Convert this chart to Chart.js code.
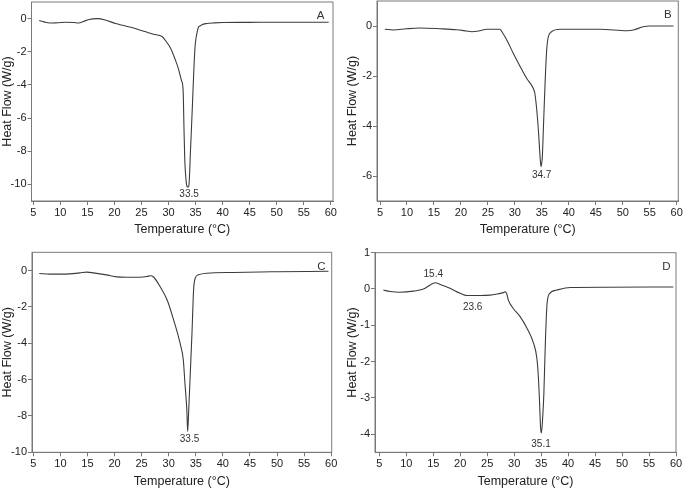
<!DOCTYPE html>
<html>
<head>
<meta charset="utf-8">
<script src="https://cdn.jsdelivr.net/npm/chart.js@4.4.1/dist/chart.umd.min.js"></script>
<style>
  body { margin: 0; background: #fff; }
  .panel { position: absolute; }
</style>
</head>
<body>
<div class="panel" style="left:0;top:0"><canvas id="chartA" width="340" height="245"></canvas></div>
<div class="panel" style="left:340px;top:0"><canvas id="chartB" width="345" height="245"></canvas></div>
<div class="panel" style="left:0;top:245px"><canvas id="chartC" width="340" height="244"></canvas></div>
<div class="panel" style="left:340px;top:245px"><canvas id="chartD" width="345" height="244"></canvas></div>
<script>
// temperatures (°C) and heat flow (W/g)
const tempA = [6.1, 7, 8, 9.5, 11, 12.5, 13.4, 14.3, 15.3, 16.8, 18.3, 20.2, 21.7, 23.2, 25.6, 27.2, 28.8, 29.6, 30.4, 31.2, 31.8, 32.4, 32.7, 32.85, 33.0, 33.15, 33.3, 33.45, 33.6, 33.75, 33.9, 34.05, 34.2, 34.45, 34.7, 34.9, 35.1, 35.3, 35.5, 35.8, 36.1, 37, 38.5, 40, 45, 50, 55, 59.6];
const flowA = [-0.12, -0.2, -0.27, -0.25, -0.22, -0.24, -0.27, -0.17, -0.05, 0, -0.08, -0.3, -0.42, -0.54, -0.78, -0.94, -1.08, -1.4, -1.8, -2.44, -3.0, -3.74, -4.34, -6.54, -8.5, -9.4, -9.94, -10.15, -10.15, -10.1, -9.3, -8.0, -6.9, -4.94, -2.94, -1.7, -1.14, -0.8, -0.54, -0.45, -0.38, -0.3, -0.26, -0.24, -0.23, -0.22, -0.22, -0.22];

const tempB = [5.9, 7.5, 9.9, 12.4, 16.1, 19.2, 21, 22, 23.5, 24.8, 27.25, 27.6, 28.5, 29.7, 31.0, 32.2, 33.4, 33.7, 34.06, 34.4, 34.67, 34.85, 35.0, 35.1, 35.3, 35.6, 35.9, 36.2, 36.8, 38.4, 45.8, 50.8, 52, 53.8, 55, 59.4];
const flowB = [-0.13, -0.16, -0.11, -0.08, -0.11, -0.15, -0.2, -0.23, -0.19, -0.13, -0.13, -0.23, -0.56, -1.09, -1.63, -2.1, -2.49, -2.69, -3.36, -4.29, -5.23, -5.63, -5.45, -5.2, -4.03, -2.29, -0.96, -0.43, -0.23, -0.13, -0.13, -0.19, -0.16, -0.03, 0, 0];

const tempC = [6.1, 8, 11, 13.6, 14.9, 16.1, 18.5, 20.4, 22.2, 24.7, 26.0, 26.6, 27.2, 28.4, 29.7, 30.9, 32.1, 32.7, 33.0, 33.35, 33.5, 33.7, 33.96, 34.3, 34.6, 34.9, 35.5, 37.05, 42, 46.9, 50, 59.5];
const flowC = [-0.17, -0.2, -0.2, -0.13, -0.09, -0.13, -0.24, -0.35, -0.37, -0.37, -0.33, -0.29, -0.36, -0.88, -1.61, -2.71, -4.0, -4.92, -6.2, -7.67, -8.86, -7.67, -5.84, -3.45, -1.06, -0.42, -0.24, -0.15, -0.11, -0.08, -0.07, -0.04];

const tempD = [5.74, 7.0, 8.8, 11.3, 13.2, 13.9, 15.0, 15.4, 16.2, 18.1, 20.0, 21.2, 23.7, 25.5, 26.8, 28.0, 28.3, 28.6, 28.9, 29.8, 31.1, 32.3, 33.6, 34.2, 34.5, 34.7, 34.9, 35.05, 35.3, 35.5, 35.8, 36.1, 36.6, 37.9, 40.4, 47.2, 59.5];
const flowD = [-0.03, -0.07, -0.09, -0.06, 0.0, 0.06, 0.16, 0.17, 0.13, 0.02, -0.12, -0.18, -0.18, -0.17, -0.14, -0.1, -0.08, -0.12, -0.3, -0.53, -0.76, -1.06, -1.5, -1.9, -2.46, -3.1, -3.83, -3.97, -3.5, -2.9, -1.4, -0.4, -0.12, -0.03, 0.04, 0.05, 0.055];

// tick labels
const xTicks = [5, 10, 15, 20, 25, 30, 35, 40, 45, 50, 55, 60];
const yTicksA = [0, -2, -4, -6, -8, -10];
const yTicksB = [0, -2, -4, -6];
const yTicksC = [0, -2, -4, -6, -8, -10];
const yTicksD = [1, 0, -1, -2, -3, -4];

// peak labels and panel letters (in data units)
const peaksA = [{ x: 33.8, y: -10.6, text: '33.5' }];
const peaksB = [{ x: 34.97, y: -5.96, text: '34.7' }];
const peaksC = [{ x: 33.85, y: -9.28, text: '33.5' }];
const peaksD = [{ x: 15.0, y: 0.4, text: '15.4' }, { x: 22.3, y: -0.5, text: '23.6' }, { x: 34.98, y: -4.28, text: '35.1' }];
const letters = [{ x: 58.1, y: 0.16, text: 'A' }, { x: 58.35, y: 0.44, text: 'B' }, { x: 58.2, y: 0.22, text: 'C' }, { x: 58.2, y: 0.61, text: 'D' }];

const FONT = 'Liberation Sans, Arial, sans-serif';

// box around the plot + the text notes
const framePlugin = {
    id: 'frame',
    afterDraw(chart, args, opts) {
        const { ctx, chartArea: a, scales } = chart;
        ctx.save();
        ctx.strokeStyle = '#7a7a7a';
        ctx.lineWidth = 1;
        ctx.strokeRect(a.left, a.top, a.right - a.left, a.bottom - a.top);
        ctx.fillStyle = '#333';
        ctx.textAlign = 'center';
        ctx.textBaseline = 'middle';
        ctx.font = '10px ' + FONT;
        opts.peaks.forEach(p => {
            ctx.fillText(p.text, scales.x.getPixelForValue(p.x), scales.y.getPixelForValue(p.y));
        });
        ctx.font = '11.5px ' + FONT;
        const l = opts.letter;
        ctx.fillText(l.text, scales.x.getPixelForValue(l.x), scales.y.getPixelForValue(l.y));
        ctx.restore();
    }
};

function makeChart(id, temp, flow, yTicks, peaks, letter, c) {
    const canvas = document.getElementById(id);
    const W = canvas.width, H = canvas.height;
    const points = temp.map((t, i) => ({ x: t, y: flow[i] }));

    return new Chart(canvas, {
        type: 'line',
        data: {
            datasets: [{
                data: points,
                borderColor: '#3c3c3c',
                borderWidth: 1.1,
                pointRadius: 0,
                fill: false,
                cubicInterpolationMode: 'monotone'
            }]
        },
        options: {
            responsive: false,
            devicePixelRatio: 1,
            animation: false,
            layout: { padding: { left: 0, top: c.top, right: W - c.right, bottom: 0 } },
            plugins: {
                legend: { display: false },
                tooltip: { enabled: false },
                frame: { peaks: peaks, letter: letter }
            },
            scales: {
                x: {
                    type: 'linear',
                    min: c.xMin,
                    max: c.xMax,
                    afterBuildTicks: s => { s.ticks = xTicks.map(v => ({ value: v })); },
                    afterFit: s => { s.height = H - c.bottom; s.paddingLeft = 0; s.paddingRight = 0; },
                    grid: { drawOnChartArea: false, drawTicks: true, tickLength: 4, color: '#777' },
                    border: { color: '#777' },
                    ticks: { padding: 1, color: '#222', font: { family: FONT, size: 11 }, maxRotation: 0, autoSkip: false },
                    title: {
                        display: true,
                        text: 'Temperature (°C)',
                        color: '#222',
                        font: { family: FONT, size: 12.5 },
                        padding: { top: 0, bottom: c.xTitlePad }
                    }
                },
                y: {
                    type: 'linear',
                    min: c.yMin,
                    max: c.yMax,
                    afterBuildTicks: s => { s.ticks = yTicks.map(v => ({ value: v })); },
                    afterFit: s => { s.width = c.left; s.paddingTop = 0; s.paddingBottom = 0; },
                    grid: { drawOnChartArea: false, drawTicks: true, tickLength: 4, color: '#777' },
                    border: { color: '#777' },
                    ticks: { padding: 1, color: '#222', font: { family: FONT, size: 11 }, autoSkip: false },
                    title: {
                        display: true,
                        text: 'Heat Flow (W/g)',
                        color: '#222',
                        font: { family: FONT, size: 12.5 },
                        padding: { top: c.yTitlePad, bottom: 0 }
                    }
                }
            }
        },
        plugins: [framePlugin]
    });
}

makeChart('chartA', tempA, flowA, yTicksA, peaksA, letters[0],
    { left: 31.5, top: 2, right: 333, bottom: 201, xMin: 4.67, xMax: 60.4, yMin: -11, yMax: 1, xTitlePad: 7.5, yTitlePad: 0 });
makeChart('chartB', tempB, flowB, yTicksB, peaksB, letters[1],
    { left: 37, top: 1, right: 338.3, bottom: 201, xMin: 4.44, xMax: 60.3, yMin: -7, yMax: 1, xTitlePad: 8, yTitlePad: 5 });
makeChart('chartC', tempC, flowC, yTicksC, peaksC, letters[2],
    { left: 32, top: 7.3, right: 331.7, bottom: 207.3, xMin: 4.76, xMax: 60.1, yMin: -10, yMax: 1, xTitlePad: 0, yTitlePad: 0 });
makeChart('chartD', tempD, flowD, yTicksD, peaksD, letters[3],
    { left: 35, top: 7.7, right: 336, bottom: 207.3, xMin: 4.2, xMax: 60.0, yMin: -4.5, yMax: 1, xTitlePad: 0, yTitlePad: 5 });
</script>
</body>
</html>
